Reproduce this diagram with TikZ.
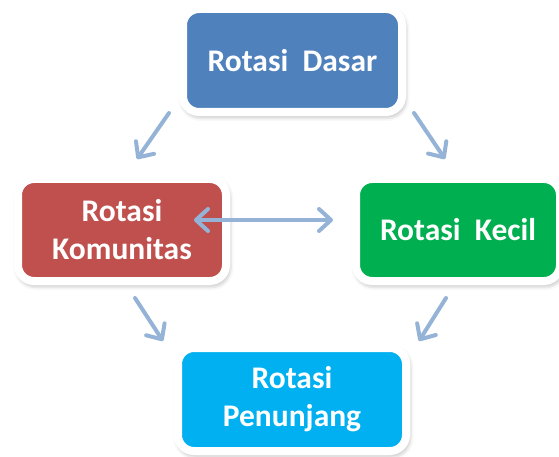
\documentclass[tikz,border=0pt]{standalone}
\usepackage{fontspec}
\setmainfont{Carlito}
\usetikzlibrary{arrows.meta,shadows.blur}
\definecolor{boxblue}{HTML}{4F81BD}
\definecolor{boxred}{HTML}{C0504D}
\definecolor{boxgreen}{HTML}{00B050}
\definecolor{boxcyan}{HTML}{00B0F0}
\definecolor{flow}{HTML}{95B3D7}
\tikzset{
  card/.style={draw=white, line width=8pt, rounded corners=16pt,
    text=white, font=\fontsize{31.5}{38}\selectfont\bfseries, align=center,
    blur shadow={shadow xshift=1.5pt, shadow yshift=-3pt,
                 shadow blur radius=6pt, shadow opacity=45}},
  barb/.tip={Straight Barb[round, length=12pt, width=22pt]},
  flowarrow/.style={draw=flow, line width=4pt, line cap=round, -barb},
  flowboth/.style={flowarrow, barb-barb}
}
\begin{document}
\begin{tikzpicture}[x=1pt, y=-1pt]
  \useasboundingbox (0,0) rectangle (559,457);
  \clip (0,0) rectangle (559,457);

  % cards
  \node[card, fill=boxblue, minimum width=219pt, minimum height=103pt]
    (dasar) at (292.5,60.5) {Rotasi\ \ Dasar};
  \node[card, fill=boxred, minimum width=208pt, minimum height=102pt]
    (komunitas) at (122,230) {Rotasi\\Komunitas};
  \node[card, fill=boxgreen, minimum width=204pt, minimum height=102pt]
    (kecil) at (458,230) {Rotasi\ \ Kecil};
  \node[card, fill=boxcyan, minimum width=228pt, minimum height=103pt]
    (penunjang) at (292,399.5) {Rotasi\\Penunjang};

  % arrow ends
  \coordinate (dl0) at (169,113);
  \coordinate (dl1) at (137,159);
  \coordinate (dr0) at (414,113);
  \coordinate (dr1) at (445,159);
  \coordinate (kp0) at (135,298);
  \coordinate (kp1) at (163,341);
  \coordinate (cp0) at (446,298);
  \coordinate (cp1) at (419,341);
  \coordinate (kk0) at (194,220);
  \coordinate (kk1) at (333,220);

  % connectors
  \draw[flowarrow] (dl0) -- (dl1);
  \draw[flowarrow] (dr0) -- (dr1);
  \draw[flowarrow] (kp0) -- (kp1);
  \draw[flowarrow] (cp0) -- (cp1);
  \draw[flowboth] (kk0) -- (kk1);
\end{tikzpicture}
\end{document}
